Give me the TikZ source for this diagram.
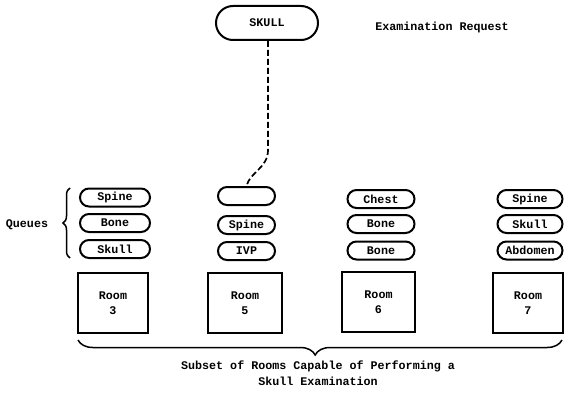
\documentclass[tikz,border=0pt]{standalone}
\usepackage{fontspec}
\setmonofont{Liberation Mono}
\usetikzlibrary{shapes.misc,decorations.pathreplacing}
\begin{document}
\begin{tikzpicture}[x=1pt,y=-1pt,
  txt/.style={font=\ttfamily\bfseries\fontsize{11.7}{16}\selectfont},
  queue/.style={txt, rounded rectangle, draw, line width=2pt, minimum height=18pt, inner sep=0pt},
  room/.style={txt, font=\ttfamily\bfseries\fontsize{11.7}{15}\selectfont, draw, line width=1.9pt, minimum height=60pt, align=center, inner sep=0pt},
  conn/.style={line width=1.7pt, dash pattern=on 6pt off 3pt},
  bracepath/.style={decorate, line width=1.5pt}]
\useasboundingbox (0,0) rectangle (565,393);

% request
\node[queue, minimum width=102pt, minimum height=34pt] (skull) at (267,23) {SKULL};
\node[txt] (req) at (442,27) {Examination Request};

% room 3
\node[queue, minimum width=70pt] (q3a) at (115,197.5) {Spine};
\node[queue, minimum width=70pt] (q3b) at (115,223) {Bone};
\node[queue, minimum width=70pt] (q3c) at (115,249) {Skull};
\node[room, minimum width=70pt] (r3) at (113,303) {Room\\3};

% room 5
\node[queue, minimum width=57pt] (q5a) at (246.5,196) {};
\node[queue, minimum width=57pt] (q5b) at (246.5,225) {Spine};
\node[queue, minimum width=57pt] (q5c) at (246.5,251) {IVP};
\node[room, minimum width=74pt] (r5) at (245,303) {Room\\5};

% room 6
\node[queue, minimum width=67pt] (q6a) at (381,199) {Chest};
\node[queue, minimum width=67pt] (q6b) at (381,224) {Bone};
\node[queue, minimum width=67pt] (q6c) at (381,250.5) {Bone};
\node[room, minimum width=73pt] (r6) at (378.5,302) {Room\\6};

% room 7
\node[queue, minimum width=65pt] (q7a) at (530,199) {Spine};
\node[queue, minimum width=65pt] (q7b) at (530,224) {Skull};
\node[queue, minimum width=65pt] (q7c) at (530,250.5) {Abdomen};
\node[room, minimum width=70pt] (r7) at (528,303) {Room\\7};

% connector
\coordinate (bend) at (268,150);
\draw[conn] (skull.south -| bend) -- (bend) .. controls (268,168) and (250,172) .. (q5a.north);

% queues brace
\node[txt] (qlab) at (27,225) {Queues};
\coordinate (qb1) at (70,258);
\coordinate (qb2) at (70,188);
\draw[bracepath, decoration={brace, amplitude=7pt}] (qb1) -- (qb2);

% bottom brace
\coordinate (bb1) at (562,340);
\coordinate (bb2) at (78,340);
\draw[bracepath, decoration={brace, amplitude=15pt, aspect=0.51}] (bb1) -- (bb2);
\node[txt, align=center] (sub) at (318,373.5) {Subset of Rooms Capable of Performing a\\Skull Examination};
\end{tikzpicture}
\end{document}
